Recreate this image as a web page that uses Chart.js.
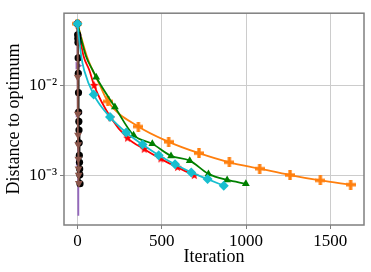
<!DOCTYPE html>
<html><head><meta charset="utf-8">
<script src="https://cdn.jsdelivr.net/npm/chart.js@4"></script>
<style>html,body{margin:0;padding:0;background:#fff;overflow:hidden}</style>
</head><body>
<canvas id="c" width="371" height="272"></canvas>
<script>
const xTicks = [0, 500, 1000, 1500];
const yTicks = [1e-3, 1e-2];
const yTickLabels = ['10\u207B\u00B3', '10\u207B\u00B2'];

// marked points
const orangeIter = [0, 180, 361, 541, 721, 901, 1081, 1261, 1441, 1621];
const orangeDist = [0.05, 0.0067, 0.0035, 0.00236, 0.00176, 0.00139, 0.00118, 0.00100, 0.00087, 0.00078];
const redIter = [0, 99, 198, 297, 396, 495, 594, 693];
const redDist = [0.05, 0.0101, 0.0044, 0.0026, 0.00195, 0.00152, 0.00122, 0.00099];
const greenIter = [0, 111, 222, 333, 444, 555, 666, 777, 888, 999];
const greenDist = [0.05, 0.0125, 0.0058, 0.0028, 0.00224, 0.00164, 0.00145, 0.00103, 0.00088, 0.00080];
const cyanIter = [0, 96, 193, 289, 386, 482, 579, 675, 772, 868];
const cyanDist = [0.05, 0.0080, 0.00447, 0.0030, 0.0022, 0.00167, 0.00132, 0.00107, 0.00090, 0.00076];
const blackIter = [0, 1, 2, 3, 4, 5, 6, 7, 8, 9, 10, 11, 12, 13, 14, 15];
const blackDist = [0.05, 0.0375, 0.034, 0.0308, 0.0206, 0.0138, 0.0084, 0.0051, 0.0040, 0.0032, 0.0023, 0.00166, 0.00139, 0.00117, 0.00101, 0.00080];
const purpleIter = [0, 1, 2, 3, 4];
const purpleDist = [0.05, 0.0365, 0.0169, 0.0049, 0.0014];
const brownIter = [0, 1, 2, 3, 4, 5, 6, 7, 8];
const brownDist = [0.05, 0.0126, 0.00485, 0.00282, 0.0022, 0.00151, 0.00118, 0.00100, 0.00081];

// unmarked curve points
const orangeBendIter = [55, 135];
const orangeBendDist = [0.0217, 0.0100];
const redBendIter = [36, 71];
const redBendDist = [0.0217, 0.0149];
const greenBendIter = [50, 91];
const greenBendDist = [0.0217, 0.0149];
const cyanBendIter = [22, 40];
const cyanBendDist = [0.0217, 0.0149];
const purpleBendIter = [5];
const purpleBendDist = [0.00035];

const FONT = "'Liberation Serif', 'Times New Roman', serif";

function mk(size, draw) {
  const c = document.createElement('canvas');
  c.width = size; c.height = size;
  draw(c.getContext('2d'), size);
  return c;
}
function plusMarker(color, s) {
  return mk(s, (g, n) => {
    const t = n / 3;
    g.fillStyle = color;
    g.fillRect(t, 0, t, n);
    g.fillRect(0, t, n, t);
  });
}
function starMarker(color, s) {
  return mk(s, (g, n) => {
    const cx = n / 2, cy = n / 2, R = n / 2, r = R * 0.45;
    g.fillStyle = color;
    g.beginPath();
    for (let i = 0; i < 10; i++) {
      const a = -Math.PI / 2 + i * Math.PI / 5;
      const rr = i % 2 ? r : R;
      g.lineTo(cx + rr * Math.cos(a), cy + rr * Math.sin(a));
    }
    g.closePath(); g.fill();
  });
}

function pts(xs, ys, bx, by) {
  const all = xs.map((x, i) => ({ x: x, y: ys[i], m: true }))
    .concat((bx || []).map((x, i) => ({ x: x, y: by[i], m: false })));
  return all.sort((a, b) => a.x - b.x);
}

function series(label, data, color, r, extra) {
  return Object.assign({
    label: label,
    data: data,
    borderColor: color,
    backgroundColor: color,
    pointBackgroundColor: color,
    pointBorderColor: color,
    borderWidth: 1.8,
    pointBorderWidth: 0,
    pointRadius: (c) => (c.raw && c.raw.m) ? r : 0,
    cubicInterpolationMode: 'monotone',
    fill: false
  }, extra);
}

const datasets = [
  series('cyan', pts(cyanIter, cyanDist, cyanBendIter, cyanBendDist), '#17becf', 5, { pointStyle: 'rectRot' }),
  series('brown', pts(brownIter, brownDist), '#8c564b', 4.5, { pointStyle: 'triangle', rotation: 180, cubicInterpolationMode: 'default', tension: 0 }),
  series('black', pts(blackIter, blackDist), '#000000', 3.6, { pointStyle: 'circle', cubicInterpolationMode: 'default', tension: 0 }),
  series('purple', pts(purpleIter, purpleDist, purpleBendIter, purpleBendDist), '#9467bd', 4.5, { pointStyle: 'triangle', rotation: 90, cubicInterpolationMode: 'default', tension: 0 }),
  series('green', pts(greenIter, greenDist, greenBendIter, greenBendDist), '#008000', 4.5, { pointStyle: 'triangle' }),
  series('red', pts(redIter, redDist, redBendIter, redBendDist), '#ff0000', 4.5, { pointStyle: starMarker('#ff0000', 9) }),
  series('orange', pts(orangeIter, orangeDist, orangeBendIter, orangeBendDist), '#ff7f0e', 5, { pointStyle: plusMarker('#ff7f0e', 10) })
];

const frame = {
  id: 'frame',
  afterDraw(chart) {
    const { ctx, chartArea: a } = chart;
    ctx.save();
    ctx.strokeStyle = '#7f7f7f';
    ctx.lineWidth = 1.5;
    ctx.strokeRect(a.left, a.top, a.right - a.left, a.bottom - a.top);
    ctx.restore();
  }
};

new Chart(document.getElementById('c'), {
  type: 'line',
  data: { datasets: datasets },
  plugins: [frame],
  options: {
    responsive: false,
    devicePixelRatio: 1,
    animation: false,
    layout: { padding: { top: 6, right: 7, left: 0, bottom: 0 } },
    plugins: { legend: { display: false }, tooltip: { enabled: false } },
    scales: {
      x: {
        type: 'linear',
        min: -80, max: 1700,
        afterBuildTicks: (s) => { s.ticks = xTicks.map(v => ({ value: v })); },
        afterFit: (s) => { s.height = 47; },
        border: { display: false },
        grid: { color: '#cccccc', lineWidth: 1, tickColor: '#7f7f7f', tickLength: 4 },
        ticks: { font: { family: FONT, size: 17 }, color: '#000', padding: 2, maxRotation: 0, callback: (v) => String(v) },
        title: { display: true, text: 'Iteration', font: { family: FONT, size: 18 }, color: '#000', padding: { top: 0, bottom: 3.5 } }
      },
      y: {
        type: 'logarithmic',
        min: 2.75e-4, max: 0.0655,
        afterBuildTicks: (s) => { s.ticks = yTicks.map(v => ({ value: v })); },
        afterFit: (s) => { s.width = 64; },
        border: { display: false },
        grid: { color: '#cccccc', lineWidth: 1, tickColor: '#7f7f7f', tickLength: 4 },
        ticks: {
          font: { family: FONT, size: 17 }, color: '#000', padding: 3,
          callback: (v) => {
            const i = yTicks.findIndex(t => Math.abs(Math.log10(t) - Math.log10(v)) < 1e-6);
            return i >= 0 ? yTickLabels[i] : '';
          }
        },
        title: { display: true, text: 'Distance to optimum', font: { family: FONT, size: 18 }, color: '#000', padding: { top: 3, bottom: 0 } }
      }
    }
  }
});
</script>
</body></html>
